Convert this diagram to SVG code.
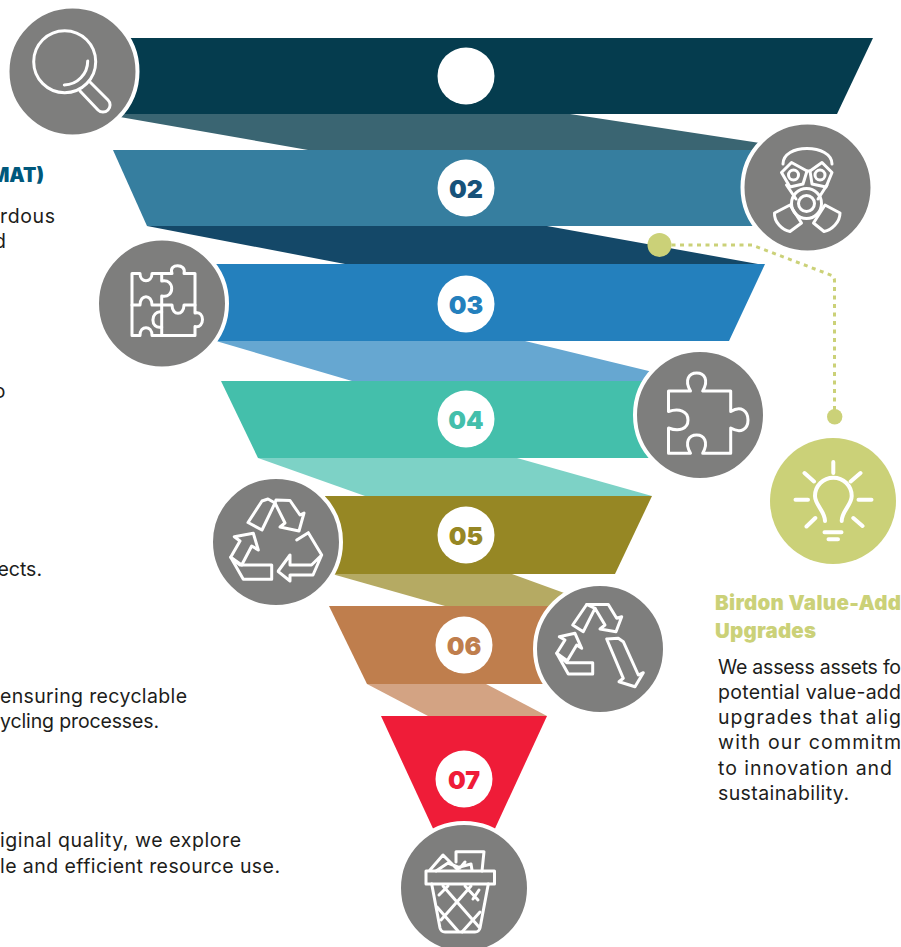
<svg xmlns="http://www.w3.org/2000/svg" width="901" height="947" viewBox="0 0 901 947">
<style>
text{font-family:"Inter","Liberation Sans",sans-serif}
.b{font-size:19.5px;fill:#1d1d1b}
.n{font-size:25px;font-weight:900;text-anchor:middle}
.disc{fill:#fff}
.c{fill:#7e7e7d;stroke:#fff;stroke-width:4}
.i{fill:none;stroke:#fff;stroke-width:3;stroke-linejoin:round;stroke-linecap:round}
.i2{fill:none;stroke:#fff;stroke-width:4;stroke-linecap:round}
.h{font-size:20.5px;font-weight:900;fill:#cbd178}
</style>
<rect width="901" height="947" fill="#fff"/>

<g id="bands">
<polygon points="120,114 570,114 760,143 805,150 308,150 120,117" fill="#3a6572"/>
<polygon points="130,38 873,38 837,114 120,114" fill="#053c4e"/>
<polygon points="147,226 547,226 758,264 345,264" fill="#144868"/>
<polygon points="113,150 805,150 770,226 147,226" fill="#367e9f"/>
<polygon points="216,341 525,341 690,381 352,381" fill="#66a7d1"/>
<polygon points="215,264 765,264 729,341 215,341" fill="#2480bd"/>
<polygon points="258,458 517,458 652,496 365,496" fill="#7dd2c6"/>
<polygon points="221,381 700,381 665,458 258,458" fill="#44bfab"/>
<polygon points="332,574 512,574 600,606 445,606" fill="#b5aa63"/>
<polygon points="325,496 652,496 615,574 332,574" fill="#968724"/>
<polygon points="367,684 486,684 547,716 428,716" fill="#d3a383"/>
<polygon points="329,606 590,606 560,684 367,684" fill="#bf7e4d"/>
<polygon points="381,716 547,716 492,835 436,835" fill="#ef1c38"/>
</g>

<g id="connectors">
<path d="M671.5,245 H752 L832,275.5 Q834.5,277 834.5,281 V417" fill="none" stroke="#cbd178" stroke-width="3" stroke-dasharray="4 4.5"/>
</g>

<g id="step-1">
<circle class="disc" cx="466" cy="76" r="28.5"/>
<circle class="c" cx="72.5" cy="71.5" r="65"/>
<g class="i">
<circle cx="64.7" cy="61.7" r="31"/>
<path d="M87.7,61 A24,24 0 0 1 64.3,85"/>
<path d="M90,82 L108,100 A7,7 0 0 1 98,110 L80,91"/>
</g>
</g>

<g id="step-2">
<circle class="disc" cx="466" cy="188" r="28.5"/>
<text class="n" x="466" y="197.500" fill="#17527a">02</text>
<circle class="c" cx="807.5" cy="187.5" r="65"/>
<g class="i">
<path d="M783,164 C783,154 794,148.5 807,148.5 C820,148.5 832,154 832,164"/>
<path d="M786.5,185 L796,199 M827,185 L818,199"/>
<path d="M781.5,172.5 L791.5,162.5 L807,171 L803,184 L790,187 Z"/>
<path d="M832,172.5 L822,162.5 L810,171 L812,184 L826,187 Z"/>
<path d="M807,171 H810"/>
<circle cx="793.5" cy="175" r="5"/>
<circle cx="820" cy="175" r="5"/>
<circle cx="806.5" cy="203.5" r="15"/>
<circle cx="806.5" cy="203.5" r="8"/>
<path d="M774.5,213 L790,205 L801.5,223 L790,231.5 C782,230 774,222 774.5,213 Z"/>
<path d="M840,213 L825,205 L813.5,223 L824,231.5 C832,230 840,222 840,213 Z"/>
</g>
</g>

<g id="step-3">
<circle class="disc" cx="466" cy="304" r="28.5"/>
<text class="n" x="466" y="313.500" fill="#2480bd">03</text>
<circle class="c" cx="162" cy="303.5" r="65"/>
<g class="i">
<path d="M132,273.5 H140 C140,283 152,283 152,273.5 H172 C168,263 187,263 184,273.5 H195 V313 C205,310 205,329 195,326.5 V335.5 H152 C152,325 140,325 140,335.5 H132 Z"/>
<path d="M161.7,273.5 V281 C175,278 175,299 161.7,296 V335.5"/>
<path d="M132,305 H140 C140,294 152,294 152,305 H172 C172,316 184,316 184,305 H195"/>
<path d="M161.7,312 C150,310 150,330 161.7,327"/>
</g>
</g>

<g id="step-4">
<circle class="disc" cx="466" cy="419" r="28.5"/>
<text class="n" x="466" y="428.500" fill="#44bfab">04</text>
<circle class="c" cx="700" cy="415" r="65"/>
<path class="i" d="M668.5,391 H690.5 C684,380 689,373 696.7,373 C704.5,373 709,380 702.7,391 H730.7 V411.5 C741,405 748,411 748,420 C748,429 741,434 730.7,428 V453.3 H702.7 C709,442 704,435 696.7,435 C689,435 684,442 690.5,453.3 H668.5 V428 C679,432 688,429 688,420 C688,411 679,408 668.5,411.5 Z"/>
</g>

<g id="step-5">
<circle class="disc" cx="466" cy="535" r="28.5"/>
<text class="n" x="466" y="544.500" fill="#968724">05</text>
<circle class="c" cx="276" cy="542" r="65"/>
<g class="i">
<path d="M248,522.5 L262,501 L268,499 L275,503 L262,530 Z"/>
<path d="M275,503 L276,500 L290,500.5 L300,515 L304,513 L299,531 L280,527 L285,523 Z"/>
<path d="M296.7,540 L308.3,532.7 L321.7,555 L313,575 H290 V581 L278.3,571.7 V571 L290,555 V565 H311.5 L321.7,555"/>
<path d="M234.3,536.7 L253.3,533.3 L258.3,550 L251.7,546 L241.7,565 L230.7,557.3 L240,541 Z"/>
<path d="M230.7,557.3 L243.3,579.3 H271.7 V565 H240 Z"/>
</g>
</g>

<g id="step-6">
<circle class="disc" cx="464" cy="645" r="28.5"/>
<text class="n" x="464" y="654.500" fill="#bf7e4d">06</text>
<circle class="c" cx="600" cy="649" r="65"/>
<g class="i">
<path d="M572.7,625 L586.7,604.5 H608.3 L616.7,618.3 L621.7,616.7 L616,631.7 L600,629 L605,625 L595,608.3 L583.3,631.7 Z"/>
<path d="M586.7,604.5 L595,608.3"/>
<path d="M559.3,636.7 L575,633.3 L581.7,648.3 L576.7,645 L567.3,660.7 L556.7,653.3 L565,640 Z"/>
<path d="M556.7,653.3 L568.3,674 H592.7 V662.7 H566.7 Z"/>
<path d="M606.7,639 L618.3,638.3 L623.3,641.7 L638.3,675 L643.3,672.7 L635,686.7 L619,681.7 L623.3,678.3 Z"/>
</g>
</g>

<g id="step-7">
<circle class="disc" cx="464" cy="779" r="28.5"/>
<text class="n" x="464" y="788.500" fill="#ef1c38">07</text>
<circle class="c" cx="464" cy="888" r="65"/>
<g class="i">
<path d="M430,870 L443,855 L458,870 M436,871 L448,863 L460,868 L465,862 M456,868 L471,864 L472,870"/>
<path d="M456,862 V851.7 H484 L482,871"/>
<rect x="426" y="871" width="68.500" height="13"/>
<path d="M431.700,884 L440,928 Q441,932 445,932 H475 Q479,932 480,928 L488.300,884"/>
<path d="M443,886 L479,927 M465,886 L478,900 M437,907 L458,931 M471,886 L441,920 M480,912 L462,932 M448,886 L439,895 M479,890 L473,899"/>
</g>
</g>

<g id="value-add">
<circle cx="659.500" cy="245" r="12" fill="#cbd178"/>
<circle cx="834.700" cy="416.700" r="7.700" fill="#cbd178"/>
<circle cx="833" cy="501" r="63" fill="#cbd178"/>
<g class="i2">
<path d="M825,521 C825,511 815,505 815,496 A18.300,18.300 0 1 1 851.700,496 C851.700,505 841.700,511 841.700,521"/>
<path d="M833.300,462 V473 M804.500,473 L814,481.500 M860.500,473 L850.700,481.500 M795.500,499.700 H808 M858.500,499.700 H871.500 M806.500,526.500 L815.300,518 M862.500,526 L853.300,518 M824.500,532.300 H841.500 M828.500,539.300 H838"/>
</g>
<text class="h" x="715" y="610" textLength="186">Birdon Value-Add</text>
<text class="h" x="715" y="638" textLength="101">Upgrades</text>
<text class="b" x="718" y="673.500" textLength="183">We assess assets fo</text>
<text class="b" x="718" y="698.500" textLength="183">potential value-add</text>
<text class="b" x="718" y="724" textLength="183">upgrades that alig</text>
<text class="b" x="718" y="749" textLength="183">with our commitm</text>
<text class="b" x="718" y="774.500" textLength="174">to innovation and</text>
<text class="b" x="718" y="799.500" textLength="131">sustainability.</text>
</g>

<g id="left-text">
<text x="44" y="182" text-anchor="end" font-size="19.500" font-weight="900" fill="#00587c">MAT)</text>
<text class="b" x="0" y="222.500" textLength="55">rdous</text>
<text class="b" x="6" y="247.500" text-anchor="end">d</text>
<text class="b" x="5.500" y="397.500" text-anchor="end">o</text>
<text class="b" x="42" y="575.500" text-anchor="end">ects.</text>
<text class="b" x="0" y="702.500" textLength="187">ensuring recyclable</text>
<text class="b" x="0" y="727.500" textLength="159">ycling processes.</text>
<text class="b" x="0" y="846.500" textLength="241">iginal quality, we explore</text>
<text class="b" x="0" y="872.500" textLength="280">le and efficient resource use.</text>
</g>
</svg>
